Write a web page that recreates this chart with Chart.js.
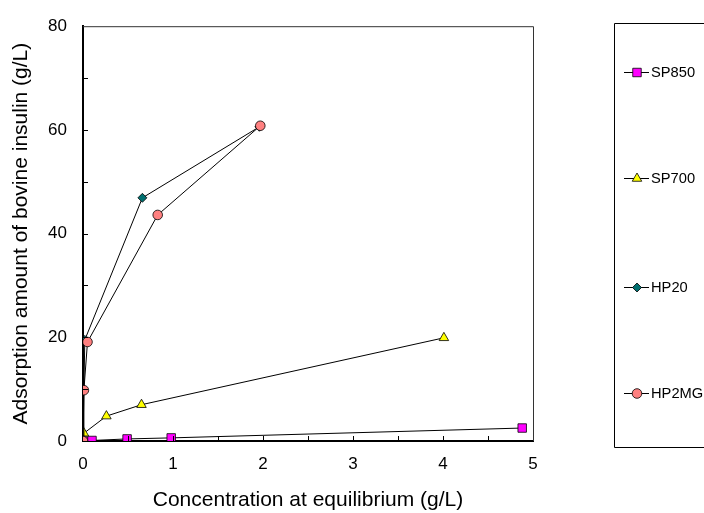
<!DOCTYPE html>
<html>
<head>
<meta charset="utf-8">
<script src="https://cdn.jsdelivr.net/npm/chart.js@4/dist/chart.umd.min.js"></script>
<style>
  html, body { margin: 0; padding: 0; background: #fff; }
  #wrap { width: 704px; height: 513px; position: relative; }
</style>
</head>
<body>
<div id="wrap"><canvas id="c" width="704" height="513"></canvas></div>
<script>
// ---- data ----
const seriesNames = ["SP850", "SP700", "HP20", "HP2MG"];
const sp850X = [0, 0.10, 0.49, 0.98, 4.88];
const sp850Y = [0, 0.1, 0.4, 0.6, 2.5];
const sp700X = [0, 0.01, 0.26, 0.65, 4.01];
const sp700Y = [0, 1.5, 4.8, 7.0, 19.9];
const hp20X = [0, 0.02, 0.66, 1.96];
const hp20Y = [0, 19.5, 46.9, 60.6];
const hp2mgX = [0, 0.01, 0.05, 0.83, 1.97];
const hp2mgY = [0, 9.8, 19.1, 43.6, 60.8];
const xTickValues = [0, 1, 2, 3, 4, 5];
const yTickValues = [0, 20, 40, 60, 80];
const xMinorTicks = [0.5, 1, 1.5, 2, 2.5, 3, 3.5, 4, 4.5];
const yMinorTicks = [10, 20, 30, 40, 50, 60, 70];
const xTitle = "Concentration at equilibrium (g/L)";
const yTitle = "Adsorption amount of bovine insulin (g/L)";

function pts(xs, ys) { return xs.map((x, i) => ({ x: x, y: ys[i] })); }

const FONT = "'Liberation Sans', Arial, sans-serif";

const styles = [
  { pointStyle: 'rect', backgroundColor: '#FF00FF', radius: 6 },
  { pointStyle: 'triangle', backgroundColor: '#FFFF00', radius: 5.5 },
  { pointStyle: 'rectRot', backgroundColor: '#007070', radius: 4.5 },
  { pointStyle: 'circle', backgroundColor: '#FF8080', radius: 4.8 }
];
const seriesData = [pts(sp850X, sp850Y), pts(sp700X, sp700Y), pts(hp20X, hp20Y), pts(hp2mgX, hp2mgY)];

const datasets = seriesNames.map((name, i) => ({
  label: name,
  data: seriesData[i],
  showLine: true,
  borderColor: '#000',
  borderWidth: 1,
  pointStyle: styles[i].pointStyle,
  pointRadius: styles[i].radius,
  pointHoverRadius: styles[i].radius,
  pointBackgroundColor: styles[i].backgroundColor,
  pointBorderColor: '#000',
  pointBorderWidth: 0.8,
  order: 4 - i
}));

const decor = {
  id: 'decor',
  afterDraw(chart) {
    const ctx = chart.ctx;
    const a = chart.chartArea;
    const xs = chart.scales.x, ys = chart.scales.y;
    ctx.save();
    // top and right frame
    ctx.strokeStyle = '#333';
    ctx.lineWidth = 1;
    ctx.beginPath();
    ctx.moveTo(a.left, a.top + 0.5);
    ctx.lineTo(a.right + 0.5, a.top + 0.5);
    ctx.lineTo(a.right + 0.5, a.bottom);
    ctx.stroke();
    // inward ticks
    ctx.strokeStyle = '#000';
    ctx.lineWidth = 1;
    ctx.beginPath();
    yMinorTicks.forEach(v => {
      const y = Math.round(ys.getPixelForValue(v)) + 0.5;
      ctx.moveTo(a.left, y); ctx.lineTo(a.left + 5, y);
    });
    xMinorTicks.forEach(v => {
      const x = Math.round(xs.getPixelForValue(v)) + 0.5;
      ctx.moveTo(x, a.bottom); ctx.lineTo(x, a.bottom - 5);
    });
    ctx.stroke();
    // legend box
    ctx.strokeStyle = '#000';
    ctx.beginPath();
    ctx.rect(614.5, 23.5, 120, 424);
    ctx.stroke();
    const ly = [72, 178, 287, 393];
    seriesNames.forEach((name, i) => {
      const y = ly[i];
      ctx.strokeStyle = '#000';
      ctx.lineWidth = 1;
      ctx.beginPath();
      ctx.moveTo(624, y + 0.5); ctx.lineTo(649, y + 0.5);
      ctx.stroke();
      ctx.fillStyle = styles[i].backgroundColor;
      ctx.strokeStyle = '#000';
      ctx.lineWidth = 0.8;
      Chart.helpers.drawPoint(ctx, { pointStyle: styles[i].pointStyle, radius: styles[i].radius, rotation: 0, borderWidth: 0.8 }, 637, y + 0.5);
      ctx.fillStyle = '#000';
      ctx.font = "14.7px " + FONT;
      ctx.textBaseline = 'middle';
      ctx.textAlign = 'left';
      ctx.fillText(name, 651, y + 1);
    });
    ctx.restore();
  }
};

new Chart(document.getElementById('c'), {
  type: 'scatter',
  data: { datasets: datasets },
  options: {
    responsive: false,
    animation: false,
    devicePixelRatio: 1,
    layout: { padding: { left: 0, right: 171, top: 23, bottom: 0 } },
    plugins: { legend: { display: false }, tooltip: { enabled: false } },
    scales: {
      x: {
        type: 'linear',
        min: 0, max: 5,
        afterFit(s) { s.height = 72; },
        afterBuildTicks(s) { s.ticks = xTickValues.map(v => ({ value: v })); },
        grid: { display: false, drawTicks: false },
        border: { display: true, color: '#000', width: 2 },
        ticks: { color: '#000', font: { family: FONT, size: 17 }, padding: 13, maxRotation: 0 },
        title: { display: true, text: xTitle, color: '#000', font: { family: FONT, size: 21 }, padding: { top: 0, bottom: 0 } }
      },
      y: {
        type: 'linear',
        min: 0, max: 80,
        afterFit(s) { s.width = 83; },
        afterBuildTicks(s) { s.ticks = yTickValues.map(v => ({ value: v })); },
        grid: { display: false, drawTicks: false },
        border: { display: true, color: '#000', width: 2 },
        ticks: { color: '#000', font: { family: FONT, size: 17 }, padding: 16 },
        title: { display: true, text: yTitle, color: '#000', font: { family: FONT, size: 21 }, padding: { top: 9, bottom: 0 } }
      }
    }
  },
  plugins: [decor]
});
</script>
</body>
</html>
